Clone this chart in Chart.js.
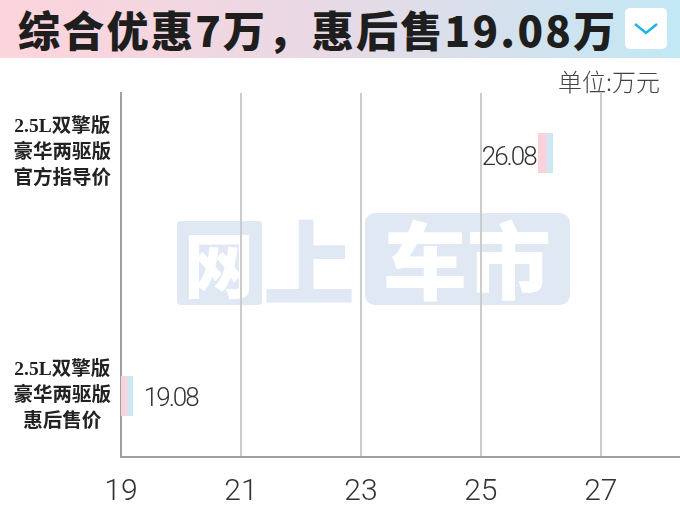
<!DOCTYPE html>
<html>
<head>
<meta charset="utf-8">
<script src="https://cdn.jsdelivr.net/npm/chart.js@4/dist/chart.umd.min.js"></script>
<style>
    body { margin: 0; background: #fff; }
    #wrap { position: relative; width: 680px; height: 510px; overflow: hidden; }
    #banner { position: absolute; left: 0; top: 0; width: 680px; height: 58px;
        background: linear-gradient(to right, #fdd4dc 0%, #ead9e4 45%, #c2e8f5 100%); }
    #title { position: absolute; left: 18px; top: 4px; font-family: 'Noto Sans CJK SC'; font-weight: 900;
        font-size: 42px; line-height: 50px; letter-spacing: 2.3px; color: #1e1e1e; white-space: nowrap; }
    #btn { position: absolute; left: 625px; top: 8px; width: 42px; height: 41px; background: #fff; border-radius: 5px; }
    #btn svg { position: absolute; left: 0; top: 0; }
    #chartBox { position: absolute; left: 0; top: 58px; width: 680px; height: 452px; }
</style>
</head>
<body>
<div id="wrap">
    <div id="banner">
        <div id="title">综合优惠7万，惠后售19.08万</div>
        <div id="btn">
            <svg width="42" height="41"><polyline points="10,16 21,25 32,16" fill="none" stroke="#1cb5e0" stroke-width="2.5"/></svg>
        </div>
    </div>
    <div id="chartBox"><canvas id="mainChart" width="680" height="452"></canvas></div>
</div>
<script>
const categories = [
    ['2.5L双擎版', '豪华两驱版', '官方指导价'],
    ['2.5L双擎版', '豪华两驱版', '惠后售价']
];
const prices = [26.08, 19.08];
const xTicks = [19, 21, 23, 25, 27];
const unitText = '单位:万元';

// small two-tone block used as the mark for each price
function makeMarker() {
    const c = document.createElement('canvas');
    c.width = 15;
    c.height = 40;
    const g = c.getContext('2d');
    const grad = g.createLinearGradient(0, 0, 15, 0);
    grad.addColorStop(0, '#fbd0da');
    grad.addColorStop(0.45, '#f8d4de');
    grad.addColorStop(0.75, '#cdeaf5');
    grad.addColorStop(1, '#c6e9f5');
    g.fillStyle = grad;
    g.fillRect(0, 0, 15, 40);
    return c;
}

const watermark = {
    id: 'watermark',
    beforeDraw(chart) {
        const ctx = chart.ctx;
        ctx.save();
        ctx.fillStyle = '#e0e8f3';
        ctx.beginPath();
        ctx.roundRect(177, 163, 85, 84, 4);
        ctx.fill();
        ctx.beginPath();
        ctx.roundRect(365, 155, 205, 92, 10);
        ctx.fill();
        ctx.textAlign = 'center';
        ctx.textBaseline = 'middle';
        ctx.font = '900 92px "Noto Sans CJK SC"';
        ctx.fillText('上', 309, 205);
        ctx.fillStyle = '#fff';
        ctx.font = '900 70px "Noto Sans CJK SC"';
        ctx.fillText('网', 219, 207);
        ctx.font = '900 84px "Noto Sans CJK SC"';
        ctx.fillText('车市', 467, 203);
        ctx.restore();
    },
    afterDraw(chart) {
        const ctx = chart.ctx;
        ctx.save();
        ctx.font = '300 24px "Noto Sans CJK SC"';
        ctx.fillStyle = '#444';
        ctx.textAlign = 'right';
        ctx.textBaseline = 'middle';
        ctx.fillText(unitText, 660, 24);
        ctx.restore();
    }
};

const valueLabels = {
    id: 'valueLabels',
    afterDatasetsDraw(chart) {
        const ctx = chart.ctx;
        const meta = chart.getDatasetMeta(0);
        const mid = (chart.chartArea.left + chart.chartArea.right) / 2;
        ctx.save();
        ctx.letterSpacing = '-2px';
        ctx.font = '300 26px Roboto';
        ctx.fillStyle = '#333';
        ctx.textBaseline = 'alphabetic';
        meta.data.forEach(function(pt, i) {
            let txt = prices[i].toFixed(2);
            if (pt.x > mid) {
                ctx.textAlign = 'right';
                ctx.fillText(txt, pt.x - 10, pt.y + 12);
            } else {
                ctx.textAlign = 'left';
                ctx.fillText(txt, pt.x + 18, pt.y + 10);
            }
        });
        ctx.restore();
    }
};

function drawChart() {
    var ctx = document.getElementById('mainChart').getContext('2d');
    var mainChart = new Chart(ctx, {
        type: 'scatter',
        data: {
            datasets: [{
                data: prices.map((v, i) => ({ x: v, y: i })),
                pointStyle: makeMarker(),
                pointRadius: 10,
            }]
        },
        options: {
            responsive: false,
            animation: false,
            events: [],
            layout: { autoPadding: false, padding: { top: 35, right: 0, left: 0, bottom: 0 } },
            plugins: {
                legend: { display: false },
                tooltip: { enabled: false }
            },
            scales: {
                x: {
                    type: 'linear',
                    min: 19,
                    max: 28.32,
                    afterBuildTicks: s => { s.ticks = xTicks.map(v => ({ value: v })); },
                    afterFit: s => { s.height = 53; s.paddingLeft = 0; s.paddingRight = 0; },
                    grid: { color: '#cccccc', lineWidth: 2, drawTicks: false },
                    border: { color: '#a0a0a0', width: 2 },
                    ticks: {
                        color: '#333',
                        padding: 17,
                        font: { family: 'Roboto', size: 30, weight: '300' }
                    }
                },
                y: {
                    type: 'linear',
                    reverse: true,
                    min: -0.247,
                    max: 1.251,
                    afterBuildTicks: s => { s.ticks = categories.map((c, i) => ({ value: i })); },
                    afterFit: s => { s.width = 121; s.paddingTop = 0; s.paddingBottom = 0; },
                    grid: { display: false, drawTicks: false },
                    border: { color: '#a0a0a0', width: 2 },
                    ticks: {
                        color: '#222',
                        padding: 10,
                        crossAlign: 'center',
                        font: { family: "'Liberation Serif', 'Noto Sans CJK SC'", size: 19.5, weight: 'bold', lineHeight: 1.35 },
                        callback: v => categories[v]
                    }
                }
            }
        },
        plugins: [watermark, valueLabels]
    });
}

window.onload = function() {
    drawChart();
};
</script>
</body>
</html>
